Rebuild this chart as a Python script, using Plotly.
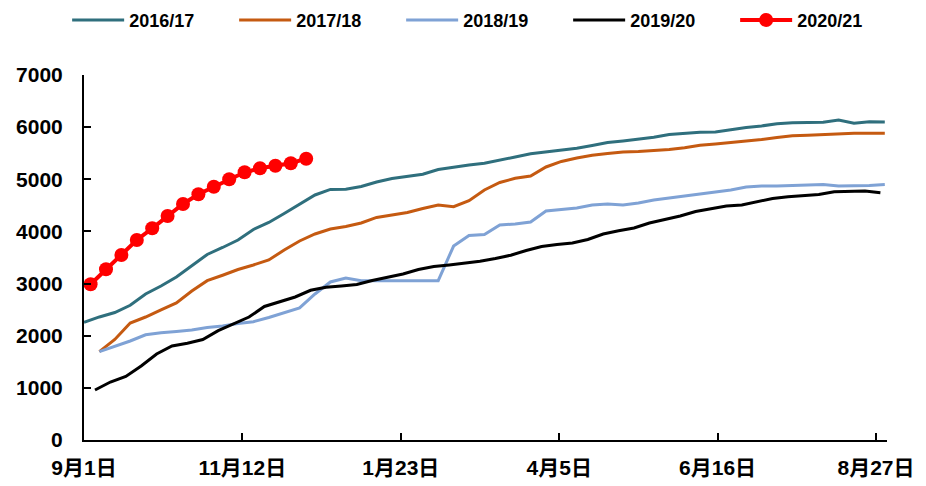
import pandas as pd
import plotly.graph_objects as go

# Series values (weekly cumulative)
s2016_17 = [2257, 2360, 2445, 2583, 2800, 2954, 3127, 3337, 3558, 3692,
            3836, 4038, 4172, 4344, 4517, 4699, 4805, 4808, 4862, 4948,
            5015, 5054, 5096, 5188, 5236, 5274, 5307, 5361, 5428, 5491,
            5524, 5556, 5595, 5649, 5706, 5735, 5764, 5806, 5859, 5888,
            5904, 5907, 5955, 5994, 6023, 6065, 6086, 6093, 6093, 6138,
            6074, 6103, 6099]
s2017_18 = [1694, 1928, 2244, 2359, 2497, 2628, 2858, 3055, 3159, 3270,
            3357, 3452, 3644, 3817, 3951, 4047, 4095, 4162, 4268, 4321,
            4363, 4440, 4507, 4475, 4590, 4795, 4939, 5019, 5064, 5236,
            5342, 5409, 5461, 5495, 5524, 5533, 5549, 5572, 5604, 5654,
            5677, 5702, 5735, 5764, 5802, 5837, 5846, 5860, 5883, 5883,
            5883, 5883]
s2018_19 = [1694, 1795, 1899, 2018, 2058, 2083, 2110, 2156, 2187, 2233,
            2269, 2350, 2436, 2532, 2800, 3031, 3107, 3055, 3055, 3055,
            3055, 3055, 3055, 3720, 3922, 3941, 4124, 4143, 4181, 4392,
            4421, 4450, 4507, 4526, 4507, 4545, 4603, 4642, 4674, 4709,
            4747, 4795, 4853, 4872, 4872, 4881, 4891, 4900, 4872, 4872,
            4881, 4900]
s2019_20 = [959, 1112, 1218, 1419, 1649, 1803, 1855, 1928, 2096, 2225,
            2359, 2561, 2647, 2743, 2871, 2931, 2954, 2982, 3059, 3126,
            3184, 3270, 3328, 3357, 3389, 3427, 3481, 3544, 3635, 3711,
            3750, 3778, 3846, 3951, 4012, 4066, 4162, 4229, 4296, 4383,
            4440, 4488, 4507, 4574, 4632, 4667, 4686, 4709, 4762, 4766,
            4776, 4743]
s2020_21 = [2986, 3274, 3548, 3836, 4060, 4296, 4526, 4712, 4858, 5000,
            5134, 5211, 5261, 5307, 5395]

series_names = ["2016/17", "2017/18", "2018/19", "2019/20", "2020/21"]
start_dates = ["2018-09-01", "2018-09-08", "2018-09-08", "2018-09-06", "2018-09-04"]

tick_dates = ["2018-09-01", "2018-11-12", "2019-01-23", "2019-04-05", "2019-06-16", "2019-08-27"]
tick_labels = ["9月1日", "11月12日", "1月23日", "4月5日", "6月16日", "8月27日"]
y_ticks = [0, 1000, 2000, 3000, 4000, 5000, 6000, 7000]

colors = ["#2F6F7D", "#C55A11", "#7FA2D5", "#000000", "#FF0000"]
all_values = [s2016_17, s2017_18, s2018_19, s2019_20, s2020_21]

fig = go.Figure()
for name, start, vals, col in zip(series_names, start_dates, all_values, colors):
    dates = pd.date_range(start, periods=len(vals), freq="7D")
    if name == "2020/21":
        fig.add_trace(go.Scatter(x=dates, y=vals, name=name, mode="lines+markers",
                                 line=dict(color=col, width=4),
                                 marker=dict(color=col, size=14)))
    else:
        fig.add_trace(go.Scatter(x=dates, y=vals, name=name, mode="lines",
                                 line=dict(color=col, width=3)))

font_family = "Liberation Sans, Noto Sans CJK SC, sans-serif"

fig.update_layout(
    width=910, height=470,
    margin=dict(l=76, r=31, t=67, b=38, autoexpand=False),
    paper_bgcolor="white", plot_bgcolor="white",
    font=dict(family=font_family, size=18, color="black", weight="bold"),
    showlegend=True,
    legend=dict(orientation="h", x=-0.021, xanchor="left", y=1.15, yanchor="middle",
                font=dict(size=18, weight="bold"),
                itemwidth=52, entrywidth=100, entrywidthmode="pixels",
                bgcolor="rgba(0,0,0,0)"),
    xaxis=dict(type="date", range=["2018-09-01", "2019-09-01"],
               tickvals=tick_dates, ticktext=tick_labels,
               ticks="inside", ticklen=7, tickwidth=2, tickcolor="black",
               showline=True, linecolor="black", linewidth=2,
               showgrid=False, zeroline=False, automargin=False,
               ticklabelstandoff=8,
               tickfont=dict(size=21, weight="bold")),
    yaxis=dict(range=[0, 7000], tickvals=y_ticks,
               ticks="inside", ticklen=7, tickwidth=2, tickcolor="black",
               showline=True, linecolor="black", linewidth=2,
               showgrid=False, zeroline=False, automargin=False,
               ticklabelstandoff=15,
               tickfont=dict(size=21, weight="bold")),
)

fig.write_html("out.html")
